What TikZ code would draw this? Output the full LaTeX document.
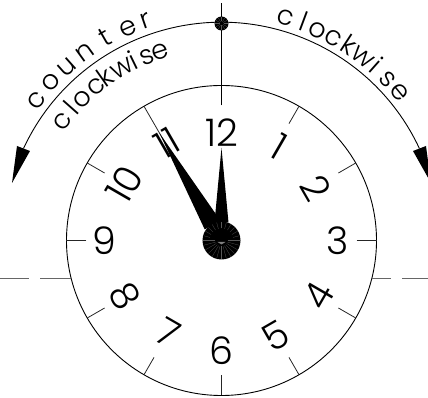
\documentclass[tikz,border=0pt]{standalone}
\usepackage{fontspec}
\usetikzlibrary{calc}
\newfontfamily\clockfont{Poppins Light}
\tikzset{
  x=1pt,y=1pt,
  rim/.style={line width=0.9pt,black},
  tick/.style={line width=0.8pt,black!85},
  centreline/.style={line width=0.9pt,black!60},
  hand/.style={fill=black,draw=none},
  ray/.style={line width=0.25pt,black!65},
  num/.style={inner sep=0pt,font=\clockfont\fontsize{38}{38}\selectfont},
  letter/.style={inner sep=0pt,anchor=base,font=\clockfont\fontsize{27}{27}\selectfont}
}
\begin{document}
\begin{tikzpicture}
\useasboundingbox (-221.5,-157.5) rectangle (206.5,240.5);
\clip (-221.5,-157.5) rectangle (206.5,240.5);
% rim and outer arc
\draw[rim] (0,0) circle (155);
\coordinate (L) at (-198,92);
\coordinate (R) at (198,92);
\draw[rim] (L) arc[start angle=155.07,end angle=24.93,radius=218.3];
\fill (-209.5,57.5) -- (-204.5,94.5) -- (-191.5,89.5) -- cycle;
\fill (209.5,57.5) -- (204.5,94.5) -- (191.5,89.5) -- cycle;
% axis
\draw[line width=0.9pt] (0,135) -- (0,237.5);
\draw[centreline] (-221.5,-38) -- (-192,-38) (-181,-38) -- (-150.5,-38);
\draw[centreline] (150.5,-38) -- (169.5,-38) (180.5,-38) -- (206.5,-38);
% ticks
\foreach \a in {30,60,150,180,210,240,270,300,330,0}
  \draw[tick] (\a:135) -- (\a:155);
\draw[tick] (120:60) -- (120:155);
% hands
\fill[hand] (-7,18) -- (0,92.5) -- (7,18) -- cycle;
\fill[hand] ($(120:18)+(30:9)$) -- (120:124) -- ($(120:18)+(210:9)$) -- cycle;
% hub
\fill (0,0) circle (19);
\foreach \a in {180,195,...,360}
  \draw[ray] (\a:6) -- (\a:18.5);
\foreach \a in {0,15,...,180}
  \draw[ray] (\a:12) -- (\a:18.5);
\fill[black!50] (-4,-1.5) -- (4,-1.5) -- (0,-4) -- cycle;
% top dot
\fill (0,217) circle (7);
\foreach \a in {0,30,...,330}
  \draw[ray] ($(0,217)+(\a:2)$) -- ($(0,217)+(\a:6.5)$);
% numerals
\node[num,rotate=-30] (n1) at (58,94.5) {1};
\node[num,rotate=-60] (n2) at (94.5,52.5) {2};
\node[num] (n3) at (116.5,0) {3};
\node[num,rotate=60] (n4) at (97.5,-55.5) {4};
\node[num,rotate=30] (n5) at (54.5,-95.5) {5};
\node[num] (n6) at (0,-110.5) {6};
\node[num,rotate=-30] (n7) at (-53.5,-92.5) {7};
\node[num,rotate=-60] (n8) at (-96.5,-55.5) {8};
\node[num] (n9) at (-117.5,0) {9};
\node[num,rotate=60] (n10) at (-97,56.5) {10};
\node[num,rotate=30] (n11) at (-54.5,97.5) {11};
\node[num] (n12) at (0,107.5) {12};
% curved labels, letter by letter
\foreach \t/\a in {c/142.8,o/137.2,u/131.7,n/125.8,t/119.9,e/113.8,r/109}
  \node[letter,rotate=\a-90] at (\a:225) {\t};
\foreach \t/\a in {c/143,l/138.5,o/134.6,c/129,k/125.3,w/120,i/116,s/112.1,e/108.1}
  \node[letter,rotate=\a-90] at (\a:191) {\t};
\foreach \t/\a in {c/74,l/69.5,o/65.5,c/61,k/56.8,w/52.4,i/48.4,s/44,e/39.7}
  \node[letter,rotate=\a-90] at (\a:224) {\t};
\end{tikzpicture}
\end{document}
